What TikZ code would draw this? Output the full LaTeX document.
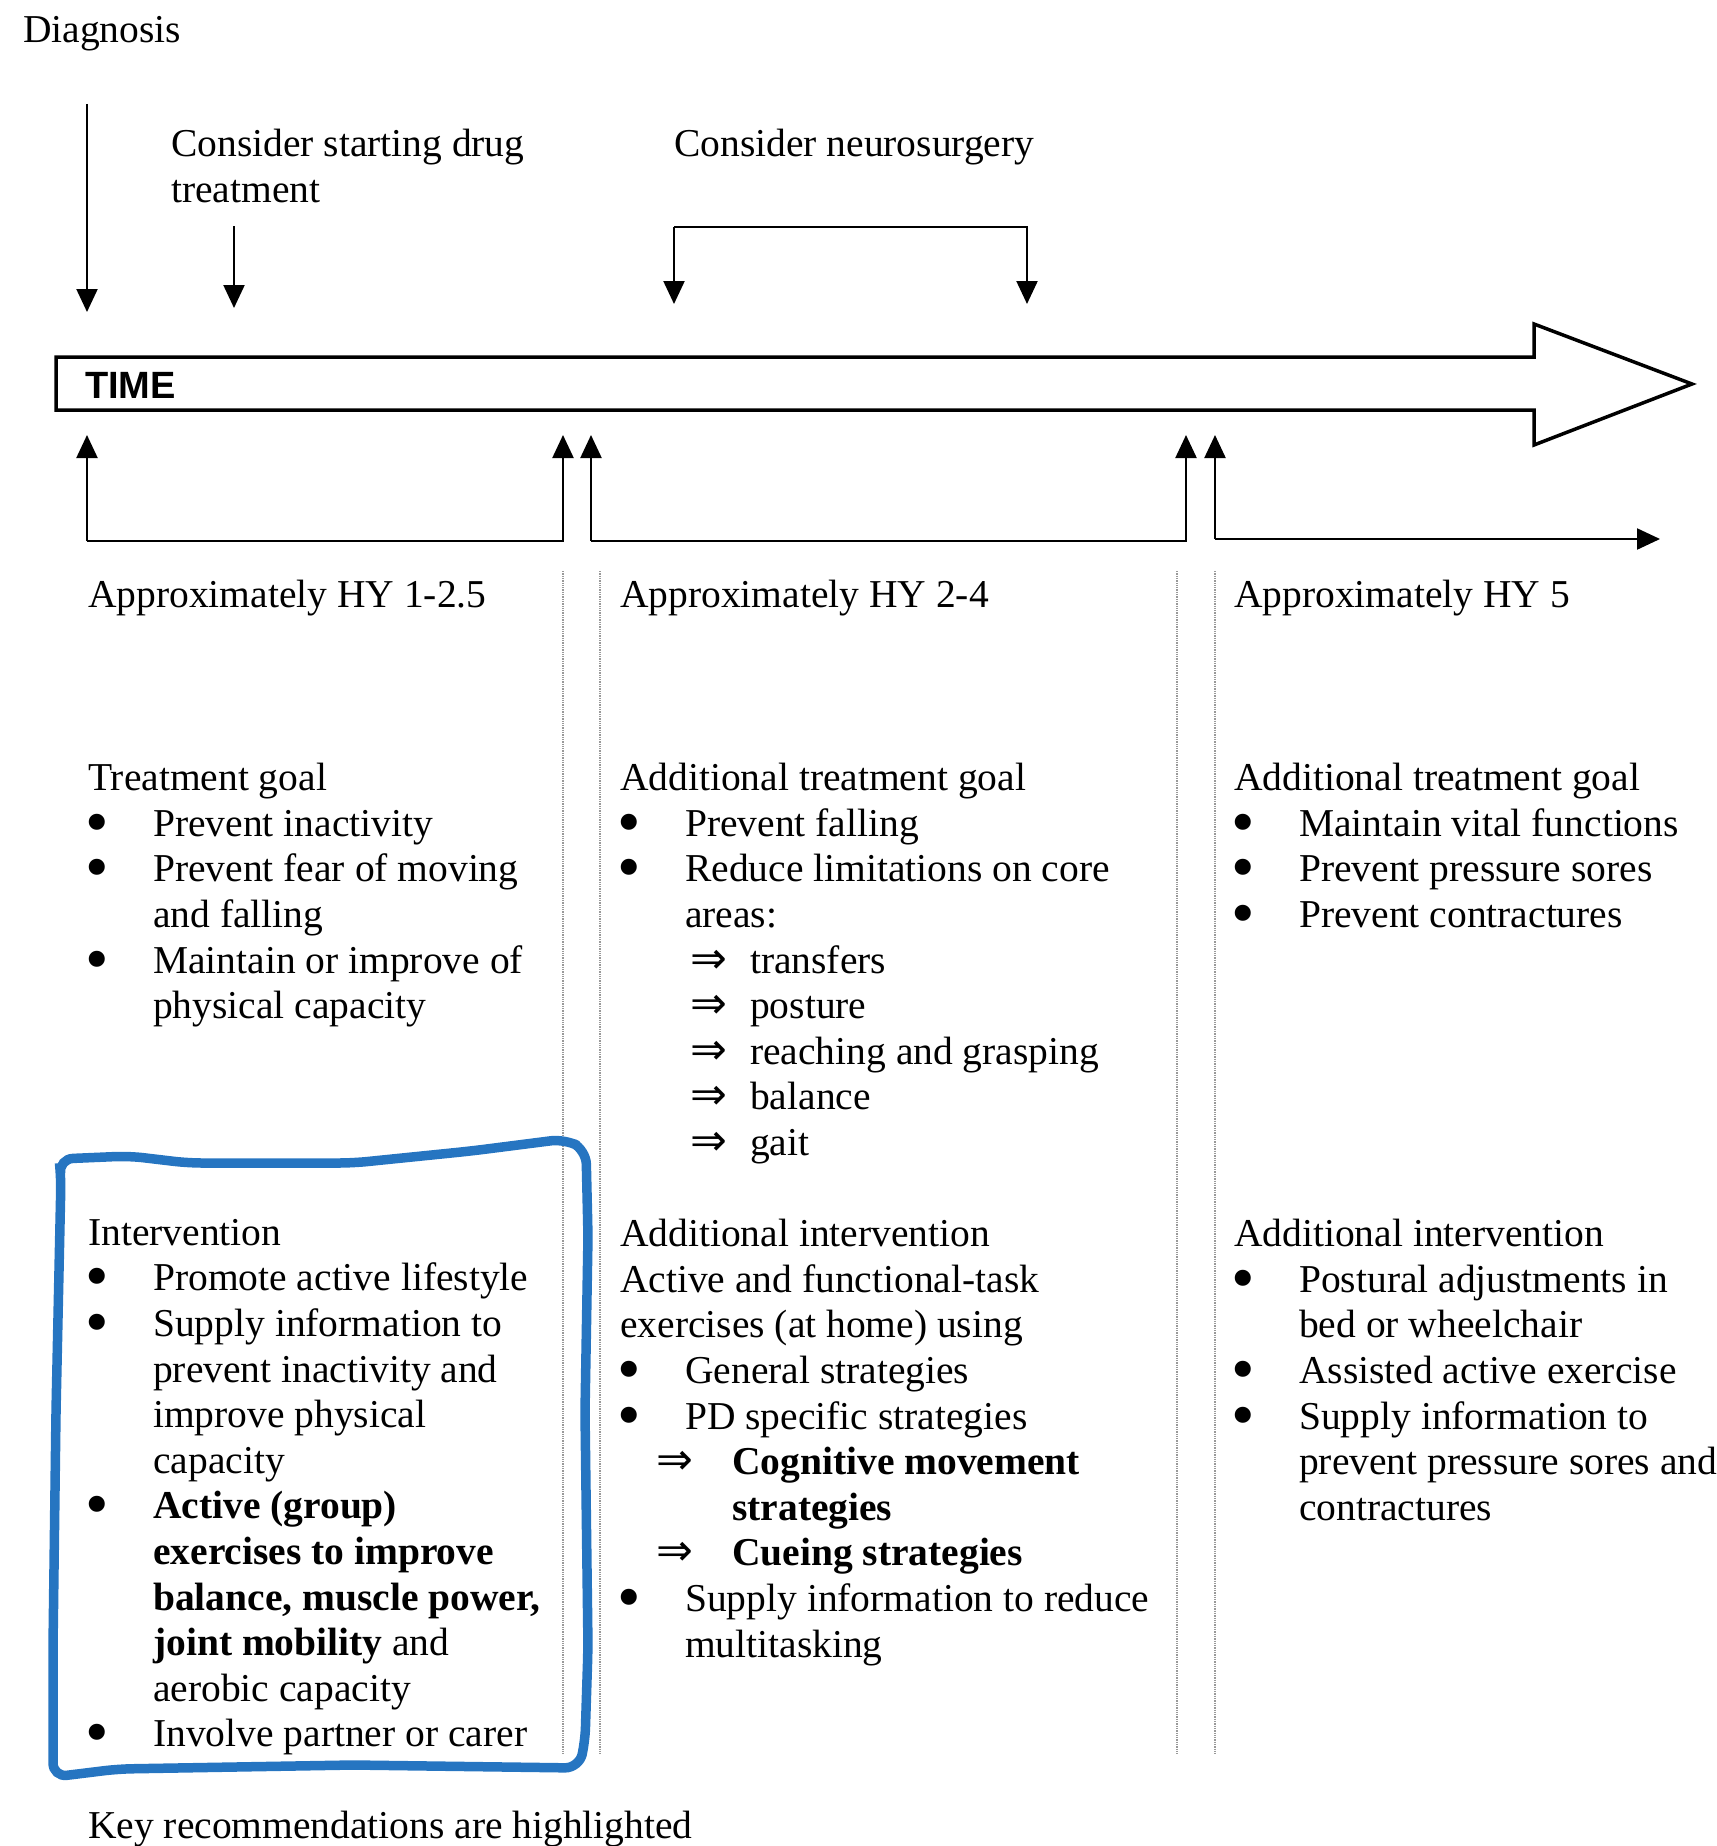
\documentclass[tikz,border=0pt]{standalone}
\usepackage{fontspec}
\usepackage{graphicx}
\setmainfont{Liberation Serif}
\newfontfamily\timefont{Liberation Sans}
\newfontfamily\symfont{DejaVu Sans}
\usetikzlibrary{arrows.meta,positioning}
\definecolor{hlblue}{RGB}{38,117,193}
\newcommand{\dbl}{{\symfont\fontsize{44}{45.6}\selectfont ⇒}}
\newcommand{\bigdot}{\raisebox{-8pt}{\scalebox{1.7}{\textbullet}}}
\newcommand{\itm}{\hspace*{-3pt}\makebox[68pt][l]{\bigdot}}
\newcommand{\cnt}{\hspace*{65pt}}
\newcommand{\subitm}{\hspace*{70pt}\makebox[60pt][l]{\dbl}}
\newcommand{\subitmb}{\hspace*{36pt}\makebox[76pt][l]{\dbl}}
\begin{document}
\begin{tikzpicture}[x=1pt,y=-1pt,
    txt/.style={anchor=north west,inner sep=0pt,align=left,
      font=\fontsize{39.5}{45.6}\selectfont,execute at begin node=\strut},
    arr/.style={line width=2.2pt,-{Triangle[width=21pt,length=23pt]}},
    sep/.style={densely dotted,gray!80,line width=1.3pt}]
  \useasboundingbox (0,0) rectangle (1716,1846);
  % events above the time line
  \node[txt] (diag) at (23,10) {Diagnosis};
  \node[txt] (drug) at (171,129) {Consider starting drug\\treatment};
  \node[txt] (neuro) at (674,124) {Consider neurosurgery};
  \coordinate (diagS) at (87,104);   \coordinate (diagE) at (87,312);
  \coordinate (drugS) at (234,226);  \coordinate (drugE) at (234,308);
  \coordinate (nsL) at (674,304);    \coordinate (nsR) at (1027,304);
  \draw[arr] (diagS) -- (diagE);
  \draw[arr] (drugS) -- (drugE);
  \draw[arr] (674,227) -- (nsL);
  \draw[arr] (674,227) -- (1027,227) -- (nsR);
  % time arrow
  \draw[line width=3.5pt,line join=miter] (56,357) -- (1534,357) -- (1534,324)
    -- (1692,384) -- (1534,445) -- (1534,410) -- (56,410) -- cycle;
  \node[anchor=base west,inner sep=0pt,font=\timefont\bfseries\fontsize{38}{44}\selectfont] (time) at (85,398) {TIME};
  % stages below the time line
  \coordinate (stA) at (87,435);  \coordinate (enA) at (563,435);
  \coordinate (stB) at (591,435); \coordinate (enB) at (1186,435);
  \coordinate (stC) at (1215,435); \coordinate (enC) at (1660,539);
  \draw[arr] (87,541) -- (stA);
  \draw[arr] (87,541) -- (563,541) -- (enA);
  \draw[arr] (591,541) -- (stB);
  \draw[arr] (591,541) -- (1186,541) -- (enB);
  \draw[arr] (1215,539) -- (stC);
  \draw[arr] (1215,539) -- (enC);
  \foreach \x in {563,600,1177,1215}
    \draw[sep] (\x,571) -- (\x,1754);
  % column headings
  \node[txt] (hyA) at (88,575) {Approximately HY 1-2.5};
  \node[txt] (hyB) at (620,575) {Approximately HY 2-4};
  \node[txt] (hyC) at (1234,575) {Approximately HY 5};
  % treatment goals
  \node[txt] (goalA) at (88,763) {Treatment goal\\
    \itm Prevent inactivity\\
    \itm Prevent fear of moving\\
    \cnt and falling\\
    \itm Maintain or improve of\\
    \cnt physical capacity};
  \node[txt] (goalB) at (620,763) {Additional treatment goal\\
    \itm Prevent falling\\
    \itm Reduce limitations on core\\
    \cnt areas:\\
    \subitm transfers\\
    \subitm posture\\
    \subitm reaching and grasping\\
    \subitm balance\\
    \subitm gait};
  \node[txt] (goalC) at (1234,763) {Additional treatment goal\\
    \itm Maintain vital functions\\
    \itm Prevent pressure sores\\
    \itm Prevent contractures};
  % interventions
  \node[txt] (intA) at (88,1219) {Intervention\\
    \itm Promote active lifestyle\\
    \itm Supply information to\\
    \cnt prevent inactivity and\\
    \cnt improve physical\\
    \cnt capacity\\
    \itm \textbf{Active (group)}\\
    \cnt \textbf{exercises to improve}\\
    \cnt \textbf{balance, muscle power,}\\
    \cnt \textbf{joint mobility} and\\
    \cnt aerobic capacity\\
    \itm Involve partner or carer};
  \node[txt] (intB) at (620,1219) {Additional intervention\\
    Active and functional-task\\
    exercises (at home) using\\
    \itm General strategies\\
    \itm PD specific strategies\\
    \subitmb \textbf{Cognitive movement}\\
    \hspace*{112pt}\textbf{strategies}\\
    \subitmb \textbf{Cueing strategies}\\
    \itm Supply information to reduce\\
    \cnt multitasking};
  \node[txt] (intC) at (1234,1219) {Additional intervention\\
    \itm Postural adjustments in\\
    \cnt bed or wheelchair\\
    \itm Assisted active exercise\\
    \itm Supply information to\\
    \cnt prevent pressure sores and\\
    \cnt contractures};
  % highlight
  \draw[hlblue,line width=9.5pt,rounded corners=14pt,line cap=round]
    (59,1159) -- (129,1156) -- (188,1163) -- (353,1163) -- (471,1151) -- (565,1139)
    -- (586,1150) -- (588,1236) -- (585,1412) -- (588,1648) -- (585,1742)
    -- (579,1768) -- (353,1765) -- (118,1769) -- (53,1777) -- (53,1648)
    -- (56,1412) -- (61,1177) -- cycle;
  \node[txt] (key) at (88,1806) {Key recommendations are highlighted};
\end{tikzpicture}
\end{document}
